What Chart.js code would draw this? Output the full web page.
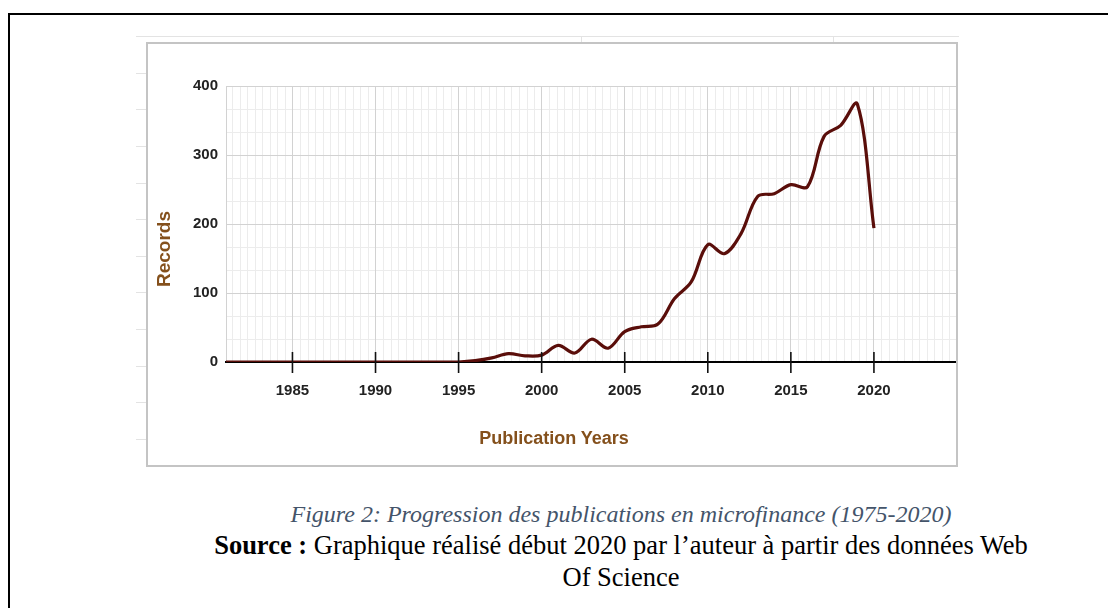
<!DOCTYPE html>
<html><head><meta charset="utf-8">
<script src="https://cdn.jsdelivr.net/npm/chart.js@4/dist/chart.umd.min.js"></script>
<style>
html,body{margin:0;padding:0;background:#fff;width:1108px;height:608px;overflow:hidden;position:relative;}
#frame{position:absolute;left:8px;top:13px;width:1200px;height:700px;border-left:2px solid #000;border-top:2px solid #000;}
#panel{position:absolute;left:146px;top:42px;width:808px;height:421px;border:2px solid #c4c4c4;pointer-events:none;z-index:3;}
#topline{position:absolute;left:136px;top:36px;width:823px;height:1px;background:#e3e3e3;}
.lt{position:absolute;left:136px;width:10px;height:1px;background:#e3e3e3;}
.vt{position:absolute;top:36px;width:1px;height:6px;background:#e3e3e3;}
#cv{position:absolute;left:146px;top:42px;z-index:2;}
.atitle{position:absolute;font-family:'Liberation Sans',Arial,sans-serif;font-weight:bold;color:#84501c;white-space:nowrap;z-index:4;}
#ytitle{left:164px;top:249px;font-size:19px;transform:translate(-50%,-50%) rotate(-90deg);}
#xtitle{left:554px;top:438px;font-size:18px;transform:translate(-50%,-50%);}
.cap{position:absolute;left:121px;width:1000px;text-align:center;font-family:'Liberation Serif','Times New Roman',serif;white-space:nowrap;}
#cap1{top:499px;font-size:24px;line-height:30px;font-style:italic;color:#44546a;}
#cap2{top:529px;font-size:26.5px;line-height:32px;color:#000;}
</style>
</head><body>
<div id="frame"></div>
<div id="topline"></div>
<div class="vt" style="left:581px"></div>
<div class="vt" style="left:833px"></div>
<div id="ticksL"></div>
<canvas id="cv" width="812" height="425"></canvas>
<div id="panel"></div>
<div id="ytitle" class="atitle">Records</div>
<div id="xtitle" class="atitle">Publication Years</div>
<div id="cap1" class="cap">Figure 2: Progression des publications en microfinance (1975-2020)</div>
<div id="cap2" class="cap"><b>Source :</b> Graphique réalisé début 2020 par l’auteur à partir des données Web<br>Of Science</div>
<script>
// decorative spreadsheet ticks left of the panel
(function(){
  var c=document.getElementById('ticksL');
  for(var y=72.7;y<445;y+=36.6){var d=document.createElement('div');d.className='lt';d.style.top=Math.round(y)+'px';c.appendChild(d);}
})();

// ---- data ----
const years = [1981,1982,1983,1984,1985,1986,1987,1988,1989,1990,
               1991,1992,1993,1994,1995,1996,1997,1998,1999,2000,
               2001,2002,2003,2004,2005,2006,2007,2008,2009,2010,
               2011,2012,2013,2014,2015,2016,2017,2018,2019,2020];
const records = [0,0,0,0,0,0,0,0,0,0,
                 0,0,0,0,0,2,6,12,9,10,
                 24,13,33,20,44,51,55,92,116,170,
                 157,186,240,244,257,254,327,343,374,194];
const xLabels = [1985,1990,1995,2000,2005,2010,2015,2020];
const yLabels = [0,100,200,300,400];
const xRange = [1981,2025];

const points = years.map((y,i)=>({x:y,y:records[i]}));

const decor = {
  id:'decor',
  beforeDraw(chart){
    const ctx=chart.ctx, a=chart.chartArea, xs=chart.scales.x, ys=chart.scales.y;
    ctx.save();
    ctx.strokeStyle='#ececec'; ctx.lineWidth=1;
    // minor vertical gridlines (10 per major interval)
    const step=5/11;
    for(let k=-20;k<200;k++){
      if(k%11===0) continue;
      const v=xLabels[0]+k*step;
      if(v<=xRange[0]||v>=xRange[1]) continue;
      const px=Math.round(xs.getPixelForValue(v))+0.5;
      ctx.beginPath();ctx.moveTo(px,a.top);ctx.lineTo(px,a.bottom);ctx.stroke();
    }
    // minor horizontal gridlines (3 per 100)
    for(let k=1;k<12;k++){
      if(k%3===0) continue;
      const py=Math.round(ys.getPixelForValue(k*100/3))+0.5;
      ctx.beginPath();ctx.moveTo(a.left,py);ctx.lineTo(a.right,py);ctx.stroke();
    }
    ctx.restore();
  },
  afterDatasetsDraw(chart){
    const ctx=chart.ctx, xs=chart.scales.x, ys=chart.scales.y;
    const y0=ys.getPixelForValue(0);
    ctx.save();
    ctx.strokeStyle='#111'; ctx.lineWidth=1.6;
    xLabels.forEach(v=>{
      const px=xs.getPixelForValue(v);
      ctx.beginPath();ctx.moveTo(px,y0-10);ctx.lineTo(px,y0+11);ctx.stroke();
    });
    ctx.restore();
  }
};

Chart.defaults.font.family="'Liberation Sans', Arial, sans-serif";

new Chart(document.getElementById('cv'),{
  type:'line',
  data:{datasets:[{
    label:'Records',
    data:points,
    borderColor:'#5a0e0a',
    borderWidth:3.2,
    pointRadius:0,
    pointHitRadius:0,
    tension:0.35,
    fill:false
  }]},
  options:{
    responsive:false,
    animation:false,
    devicePixelRatio:1,
    layout:{autoPadding:false,padding:{left:0,top:44,right:1,bottom:5}},
    plugins:{legend:{display:false},tooltip:{enabled:false},title:{display:false}},
    scales:{
      x:{
        type:'linear',
        min:xRange[0], max:xRange[1],
        afterBuildTicks(s){ s.ticks = [xRange[0]].concat(xLabels).concat([xRange[1]]).map(v=>({value:v})); },
        afterFit(s){ s.height=100; s.paddingLeft=0; s.paddingRight=0; },
        grid:{color:'#d2d2d2',lineWidth:1,drawTicks:false},
        border:{display:true,color:'#000',width:2},
        ticks:{
          padding:20,
          color:'#222',
          font:{size:15,weight:'bold'},
          maxRotation:0,
          autoSkip:false,
          callback:(v)=> xLabels.includes(v) ? String(v) : ''
        }
      },
      y:{
        type:'linear',
        min:yLabels[0], max:yLabels[yLabels.length-1],
        afterBuildTicks(s){ s.ticks = yLabels.map(v=>({value:v})); },
        afterFit(s){ s.width=80; s.paddingTop=0; s.paddingBottom=0; },
        grid:{color:(c)=> c.tick && c.tick.value===0 ? 'rgba(0,0,0,0)' : '#d2d2d2',lineWidth:1,drawTicks:false},
        border:{display:false},
        ticks:{
          padding:8,
          color:'#222',
          font:{size:15,weight:'bold'},
          callback:(v)=>String(v)
        }
      }
    }
  },
  plugins:[decor]
});
</script>
</body></html>
